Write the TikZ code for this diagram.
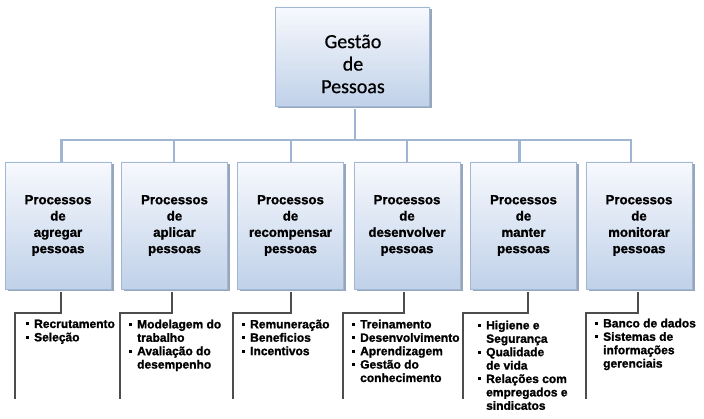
\documentclass[tikz,border=0pt]{standalone}
\usepackage{fontspec}
\setmainfont{Liberation Sans}[BoldFeatures={FakeBold=1.3}]
\newfontfamily\calibfont{Carlito}[FakeBold=0.6]
\usetikzlibrary{shadows,calc}
\definecolor{boxborder}{HTML}{A2B7D4}
\definecolor{boxtop}{HTML}{F7F9FD}
\definecolor{boxbot}{HTML}{C0D1E9}
\definecolor{boxshadow}{HTML}{8797B0}
\definecolor{connblue}{HTML}{A0B5D1}
\definecolor{brackgray}{HTML}{4D4D4D}
\newcommand{\sqb}{\makebox[8pt][l]{\rule[2.6pt]{3pt}{3pt}}}
\newcommand{\ind}{\hspace*{8pt}}
\tikzset{
  gbox/.style={draw=boxborder, line width=0.8pt, top color=boxtop, bottom color=boxbot,
    drop shadow={shadow xshift=2.5pt, shadow yshift=-2.5pt, fill=boxshadow, opacity=0.85},
    align=center, inner sep=0pt},
  topbox/.style={gbox, minimum width=154pt, minimum height=99pt},
  toptext/.style={align=center, inner sep=0pt, font=\calibfont\fontsize{20}{22.5}\selectfont},
  procbox/.style={gbox, minimum width=106pt, minimum height=127pt,
    font=\bfseries\fontsize{13.2}{16.3}\selectfont},
  conn/.style={draw=connblue, line width=2.4pt},
  brack/.style={draw=brackgray, line width=1.8pt},
  listtext/.style={anchor=north west, inner sep=0pt, align=left,
    font=\bfseries\fontsize{12}{13.4}\selectfont}
}
\begin{document}
\begin{tikzpicture}[x=1pt,y=-1pt]
\useasboundingbox[fill=white] (0,0) rectangle (704,419);

\coordinate (hub) at (355,140);
\node[topbox] (top) at (352,56.5) {};
\node[toptext] (toplbl) at (353,64) {Gestão\\de\\Pessoas};

\node[procbox] (b1) at (58,225.5) {Processos\\de\\agregar\\pessoas};
\node[procbox] (b2) at (174.5,225.5) {Processos\\de\\aplicar\\pessoas};
\node[procbox] (b3) at (290.5,225.5) {Processos\\de\\recompensar\\pessoas};
\node[procbox] (b4) at (407,225.5) {Processos\\de\\desenvolver\\pessoas};
\node[procbox] (b5) at (523.5,225.5) {Processos\\de\\manter\\pessoas};
\node[procbox] (b6) at (639,225.5) {Processos\\de\\monitorar\\pessoas};

\draw[conn] (top.south -| hub) ++(0,3) -- (hub);
\draw[conn] (hub) -| ($(b1.north)+(3.5,0)$);
\draw[conn] (hub) -| ($(b2.north)+(-0.5,0)$);
\draw[conn] (hub) -| ($(b3.north)+(0.5,0)$);
\draw[conn] (hub) -| (b4.north);
\draw[conn] (hub) -| ($(b5.north)+(-4,0)$);
\draw[conn] (hub) -| ($(b6.north)+(-8,0)$);

\coordinate (e1) at (15,399);
\coordinate (e2) at (120,399);
\coordinate (e3) at (233,399);
\coordinate (e4) at (343,399);
\coordinate (e5) at (463,399);
\coordinate (e6) at (586,399);
\draw[brack] (b1.south) ++(3,3) -- ++(0,21) -| (e1);
\draw[brack] (b2.south) ++(-2.5,3) -- ++(0,21) -| (e2);
\draw[brack] (b3.south) ++(0.5,3) -- ++(0,21) -| (e3);
\draw[brack] (b4.south) ++(-3,3) -- ++(0,21) -| (e4);
\draw[brack] (b5.south) ++(4.5,3) -- ++(0,21) -| (e5);
\draw[brack] (b6.south) ++(-1,3) -- ++(0,21) -| (e6);

\node[listtext] (l1) at (26,319.5) {\sqb Recrutamento\\\sqb Seleção};
\node[listtext] (l2) at (129,319.5) {\sqb Modelagem do\\\ind trabalho\\\sqb Avaliação do\\\ind desempenho};
\node[listtext] (l3) at (242,319.5) {\sqb Remuneração\\\sqb Beneficios\\\sqb Incentivos};
\node[listtext] (l4) at (352,319.5) {\sqb Treinamento\\\sqb Desenvolvimento\\\sqb Aprendizagem\\\sqb Gestão do\\\ind conhecimento};
\node[listtext] (l5) at (478,320.5) {\sqb Higiene e\\\ind Segurança\\\sqb Qualidade\\\ind de vida\\\sqb Relações com\\\ind empregados e\\\ind sindicatos};
\node[listtext] (l6) at (595,318.5) {\sqb Banco de dados\\\sqb Sistemas de\\\ind informações\\\ind gerenciais};
\end{tikzpicture}
\end{document}
